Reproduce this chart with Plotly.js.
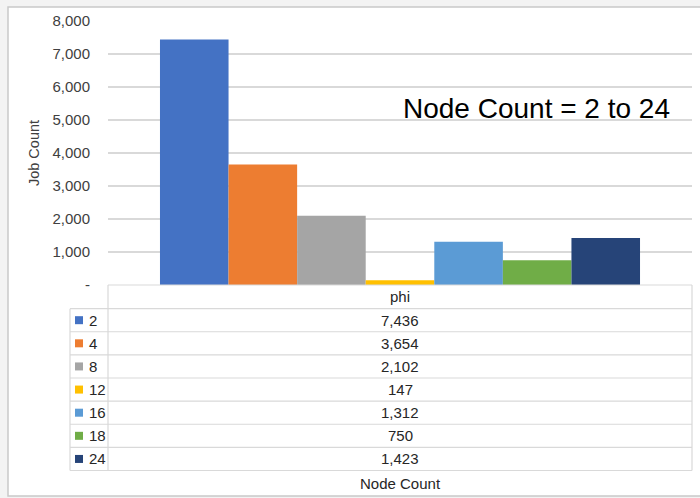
<!DOCTYPE html>
<html>
<head>
<meta charset="utf-8">
<script src="https://cdn.plot.ly/plotly-3.0.1.min.js"></script>
<style>
  html, body { margin: 0; padding: 0; background: #ffffff; }
  #chart { width: 700px; height: 498px; }
</style>
</head>
<body>
<div id="chart"></div>
<script>
// Jobs on the "phi" partition, split by node count
const category = 'phi';
const nodeCounts = ['2', '4', '8', '12', '16', '18', '24'];
const jobCounts = [7436, 3654, 2102, 147, 1312, 750, 1423];
const seriesColors = ['#4472C4', '#ED7D31', '#A5A5A5', '#FFC000', '#5B9BD5', '#70AD47', '#264478'];

const yTickVals = [0, 1000, 2000, 3000, 4000, 5000, 6000, 7000, 8000];
const yTickText = ['-', '1,000', '2,000', '3,000', '4,000', '5,000', '6,000', '7,000', '8,000'];

const chartNote = 'Node Count = 2 to 24';
const yTitle = 'Job Count';
const xTitle = 'Node Count';

// Page geometry (pixels)
const W = 700, H = 498;
const plotLeft = 108, plotRight = 692, plotTop = 21, plotBottom = 284.7;
const legendLeft = 70;
const headerBottom = 308.3;
const rowH = 23.1;

// pixel -> paper coordinate helpers
const px = x => (x - plotLeft) / (plotRight - plotLeft);
const py = y => (plotBottom - y) / (plotBottom - plotTop);

const fontFamily = 'Liberation Sans, Arial, sans-serif';
const gridColor = '#d9d9d9';

const traces = nodeCounts.map((n, i) => ({
  type: 'bar',
  name: n,
  x: [category],
  y: [jobCounts[i]],
  marker: { color: seriesColors[i], line: { width: 0 } },
  hoverinfo: 'name+y'
}));

const shapes = [];
const annotations = [];

// outer chart frame
shapes.push({
  type: 'rect', xref: 'paper', yref: 'paper', layer: 'below',
  x0: px(8), x1: px(710), y0: py(7), y1: py(495.5),
  fillcolor: '#ffffff', line: { color: '#c9c9c9', width: 1.5 }
});

const tableBottom = headerBottom + rowH * nodeCounts.length;

// data table grid: horizontal rules
shapes.push({ type: 'line', xref: 'paper', yref: 'paper',
  x0: px(plotLeft), x1: px(plotRight), y0: py(plotBottom), y1: py(plotBottom),
  line: { color: gridColor, width: 1.2 } });
for (let r = 0; r <= nodeCounts.length; r++) {
  const yy = headerBottom + r * rowH;
  shapes.push({ type: 'line', xref: 'paper', yref: 'paper',
    x0: px(legendLeft), x1: px(plotRight), y0: py(yy), y1: py(yy),
    line: { color: gridColor, width: 1.2 } });
}
// vertical rules
shapes.push({ type: 'line', xref: 'paper', yref: 'paper',
  x0: px(legendLeft), x1: px(legendLeft), y0: py(headerBottom), y1: py(tableBottom),
  line: { color: gridColor, width: 1.2 } });
shapes.push({ type: 'line', xref: 'paper', yref: 'paper',
  x0: px(plotLeft), x1: px(plotLeft), y0: py(plotBottom), y1: py(tableBottom),
  line: { color: gridColor, width: 1.2 } });
shapes.push({ type: 'line', xref: 'paper', yref: 'paper',
  x0: px(plotRight), x1: px(plotRight), y0: py(plotBottom), y1: py(tableBottom),
  line: { color: gridColor, width: 1.2 } });

const tableFont = { family: fontFamily, size: 15, color: '#262626' };

// header cell
annotations.push({ xref: 'paper', yref: 'paper', x: px((plotLeft + plotRight) / 2),
  y: py((plotBottom + headerBottom) / 2), text: category, showarrow: false,
  xanchor: 'center', yanchor: 'middle', font: tableFont });

// one row per series: swatch, key, value
nodeCounts.forEach((n, i) => {
  const yc = headerBottom + (i + 0.5) * rowH;
  shapes.push({ type: 'rect', xref: 'paper', yref: 'paper',
    x0: px(75), x1: px(83), y0: py(yc - 4), y1: py(yc + 4),
    fillcolor: seriesColors[i], line: { width: 0 } });
  annotations.push({ xref: 'paper', yref: 'paper', x: px(86.5), y: py(yc),
    text: n, showarrow: false, xanchor: 'left', yanchor: 'middle', font: tableFont });
  annotations.push({ xref: 'paper', yref: 'paper', x: px((plotLeft + plotRight) / 2), y: py(yc),
    text: jobCounts[i].toLocaleString('en-US'), showarrow: false,
    xanchor: 'center', yanchor: 'middle', font: tableFont });
});

// axis title under the table
annotations.push({ xref: 'paper', yref: 'paper', x: px((plotLeft + plotRight) / 2), y: py(482.7),
  text: xTitle, showarrow: false, xanchor: 'center', yanchor: 'middle', font: tableFont });

// note in the plot area
annotations.push({ xref: 'paper', yref: 'paper', x: px(401), y: py(108),
  text: chartNote, showarrow: false, xanchor: 'left', yanchor: 'middle',
  font: { family: fontFamily, size: 28, color: '#000000' } });

const layout = {
  width: W, height: H,
  margin: { l: plotLeft, r: W - plotRight, t: plotTop, b: H - plotBottom, pad: 0 },
  paper_bgcolor: '#f3f3f3',
  plot_bgcolor: 'rgba(0,0,0,0)',
  barmode: 'group',
  bargap: 0.178,
  bargroupgap: 0,
  showlegend: false,
  font: { family: fontFamily, size: 15, color: '#404040' },
  xaxis: {
    type: 'category',
    showticklabels: false,
    showgrid: false,
    zeroline: false,
    showline: false,
    ticks: ''
  },
  yaxis: {
    range: [0, 8000],
    tickmode: 'array',
    tickvals: yTickVals,
    ticktext: yTickText,
    showgrid: true,
    gridcolor: gridColor,
    gridwidth: 1.2,
    zeroline: false,
    showline: false,
    ticks: '',
    ticklabelstandoff: 17,
    tickfont: { family: fontFamily, size: 15, color: '#404040' },
    title: { text: yTitle, standoff: 9, font: { family: fontFamily, size: 14.5, color: '#404040' } }
  },
  shapes: shapes,
  annotations: annotations
};

Plotly.newPlot('chart', traces, layout, { displayModeBar: false, staticPlot: true });
</script>
</body>
</html>
